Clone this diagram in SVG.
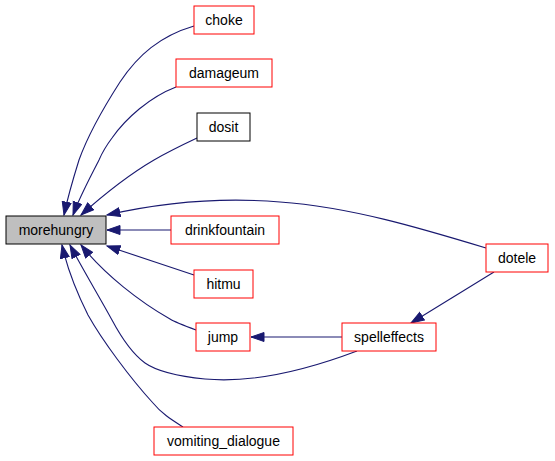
<svg xmlns="http://www.w3.org/2000/svg" width="555" height="461" viewBox="0 0 555 461">
<style>
.n rect{fill:#fff;stroke:#ff0000;stroke-width:1}
.n.b rect{stroke:#000}
.n.g rect{fill:#bfbfbf}
.n text{font-family:"Liberation Sans",Arial,sans-serif;font-size:14px;text-anchor:middle;fill:#000}
.e path{fill:none;stroke:#191970;stroke-width:1.1;marker-end:url(#ah)}
</style>
<defs>
<marker id="ah" markerUnits="userSpaceOnUse" markerWidth="16" markerHeight="12" refX="13.5" refY="5" orient="auto">
<path d="M0.5,0.5 L13.5,5 L0.5,9.5 z" fill="#191970" stroke="#191970" stroke-width="1"/>
</marker>
</defs>
<g id="edges" class="e">
<path d="M194,26 C160,36 138,55 120,82 C102,110 88,135 79,160 C74,176 68,196 64,215"/>
<path d="M176,87 C150,97 126,118 112,138 C106,146 102,153 99,160 C92,174 80,196 73,215"/>
<path d="M197,138 C180,146 166,153 154,160 C130,174 100,198 81,215"/>
<path d="M486,248 C420,228 350,207 280,202 C220,197 160,203 107,215"/>
<path d="M171,230 L107,230"/>
<path d="M194,275 L107,246"/>
<path d="M196,330 C180,324 175,322 170,319 C140,302 105,275 81,245"/>
<path d="M357,351 C320,365 260,384 205,379 C175,376 155,370 145,363 C130,352 120,335 112,320 C100,298 82,268 70,245"/>
<path d="M183,427 C172,420 162,414 153,403 C130,378 102,340 88,315 C78,295 68,272 62,245"/>
<path d="M342,337 L251,337"/>
<path d="M494,272 L411,323"/>
</g>
<g id="morehungry" class="n b g"><rect x="6" y="216" width="100" height="28"/><text x="56" y="235">morehungry</text></g>
<g id="choke" class="n"><rect x="194" y="6" width="60" height="28"/><text x="224" y="25">choke</text></g>
<g id="damageum" class="n"><rect x="176" y="59" width="96" height="28"/><text x="224" y="78">damageum</text></g>
<g id="dosit" class="n b"><rect x="197" y="113" width="53" height="28"/><text x="223.5" y="132">dosit</text></g>
<g id="drinkfountain" class="n"><rect x="171" y="216" width="108" height="28"/><text x="225" y="235">drinkfountain</text></g>
<g id="hitmu" class="n"><rect x="194" y="270" width="59" height="28"/><text x="223.5" y="289">hitmu</text></g>
<g id="jump" class="n"><rect x="196" y="323" width="54" height="28"/><text x="223" y="342">jump</text></g>
<g id="vomiting_dialogue" class="n"><rect x="154" y="427" width="139" height="28"/><text x="223.5" y="446">vomiting_dialogue</text></g>
<g id="dotele" class="n"><rect x="486" y="244" width="62" height="28"/><text x="517" y="263">dotele</text></g>
<g id="spelleffects" class="n"><rect x="342" y="323" width="94" height="28"/><text x="389" y="342">spelleffects</text></g>
</svg>
